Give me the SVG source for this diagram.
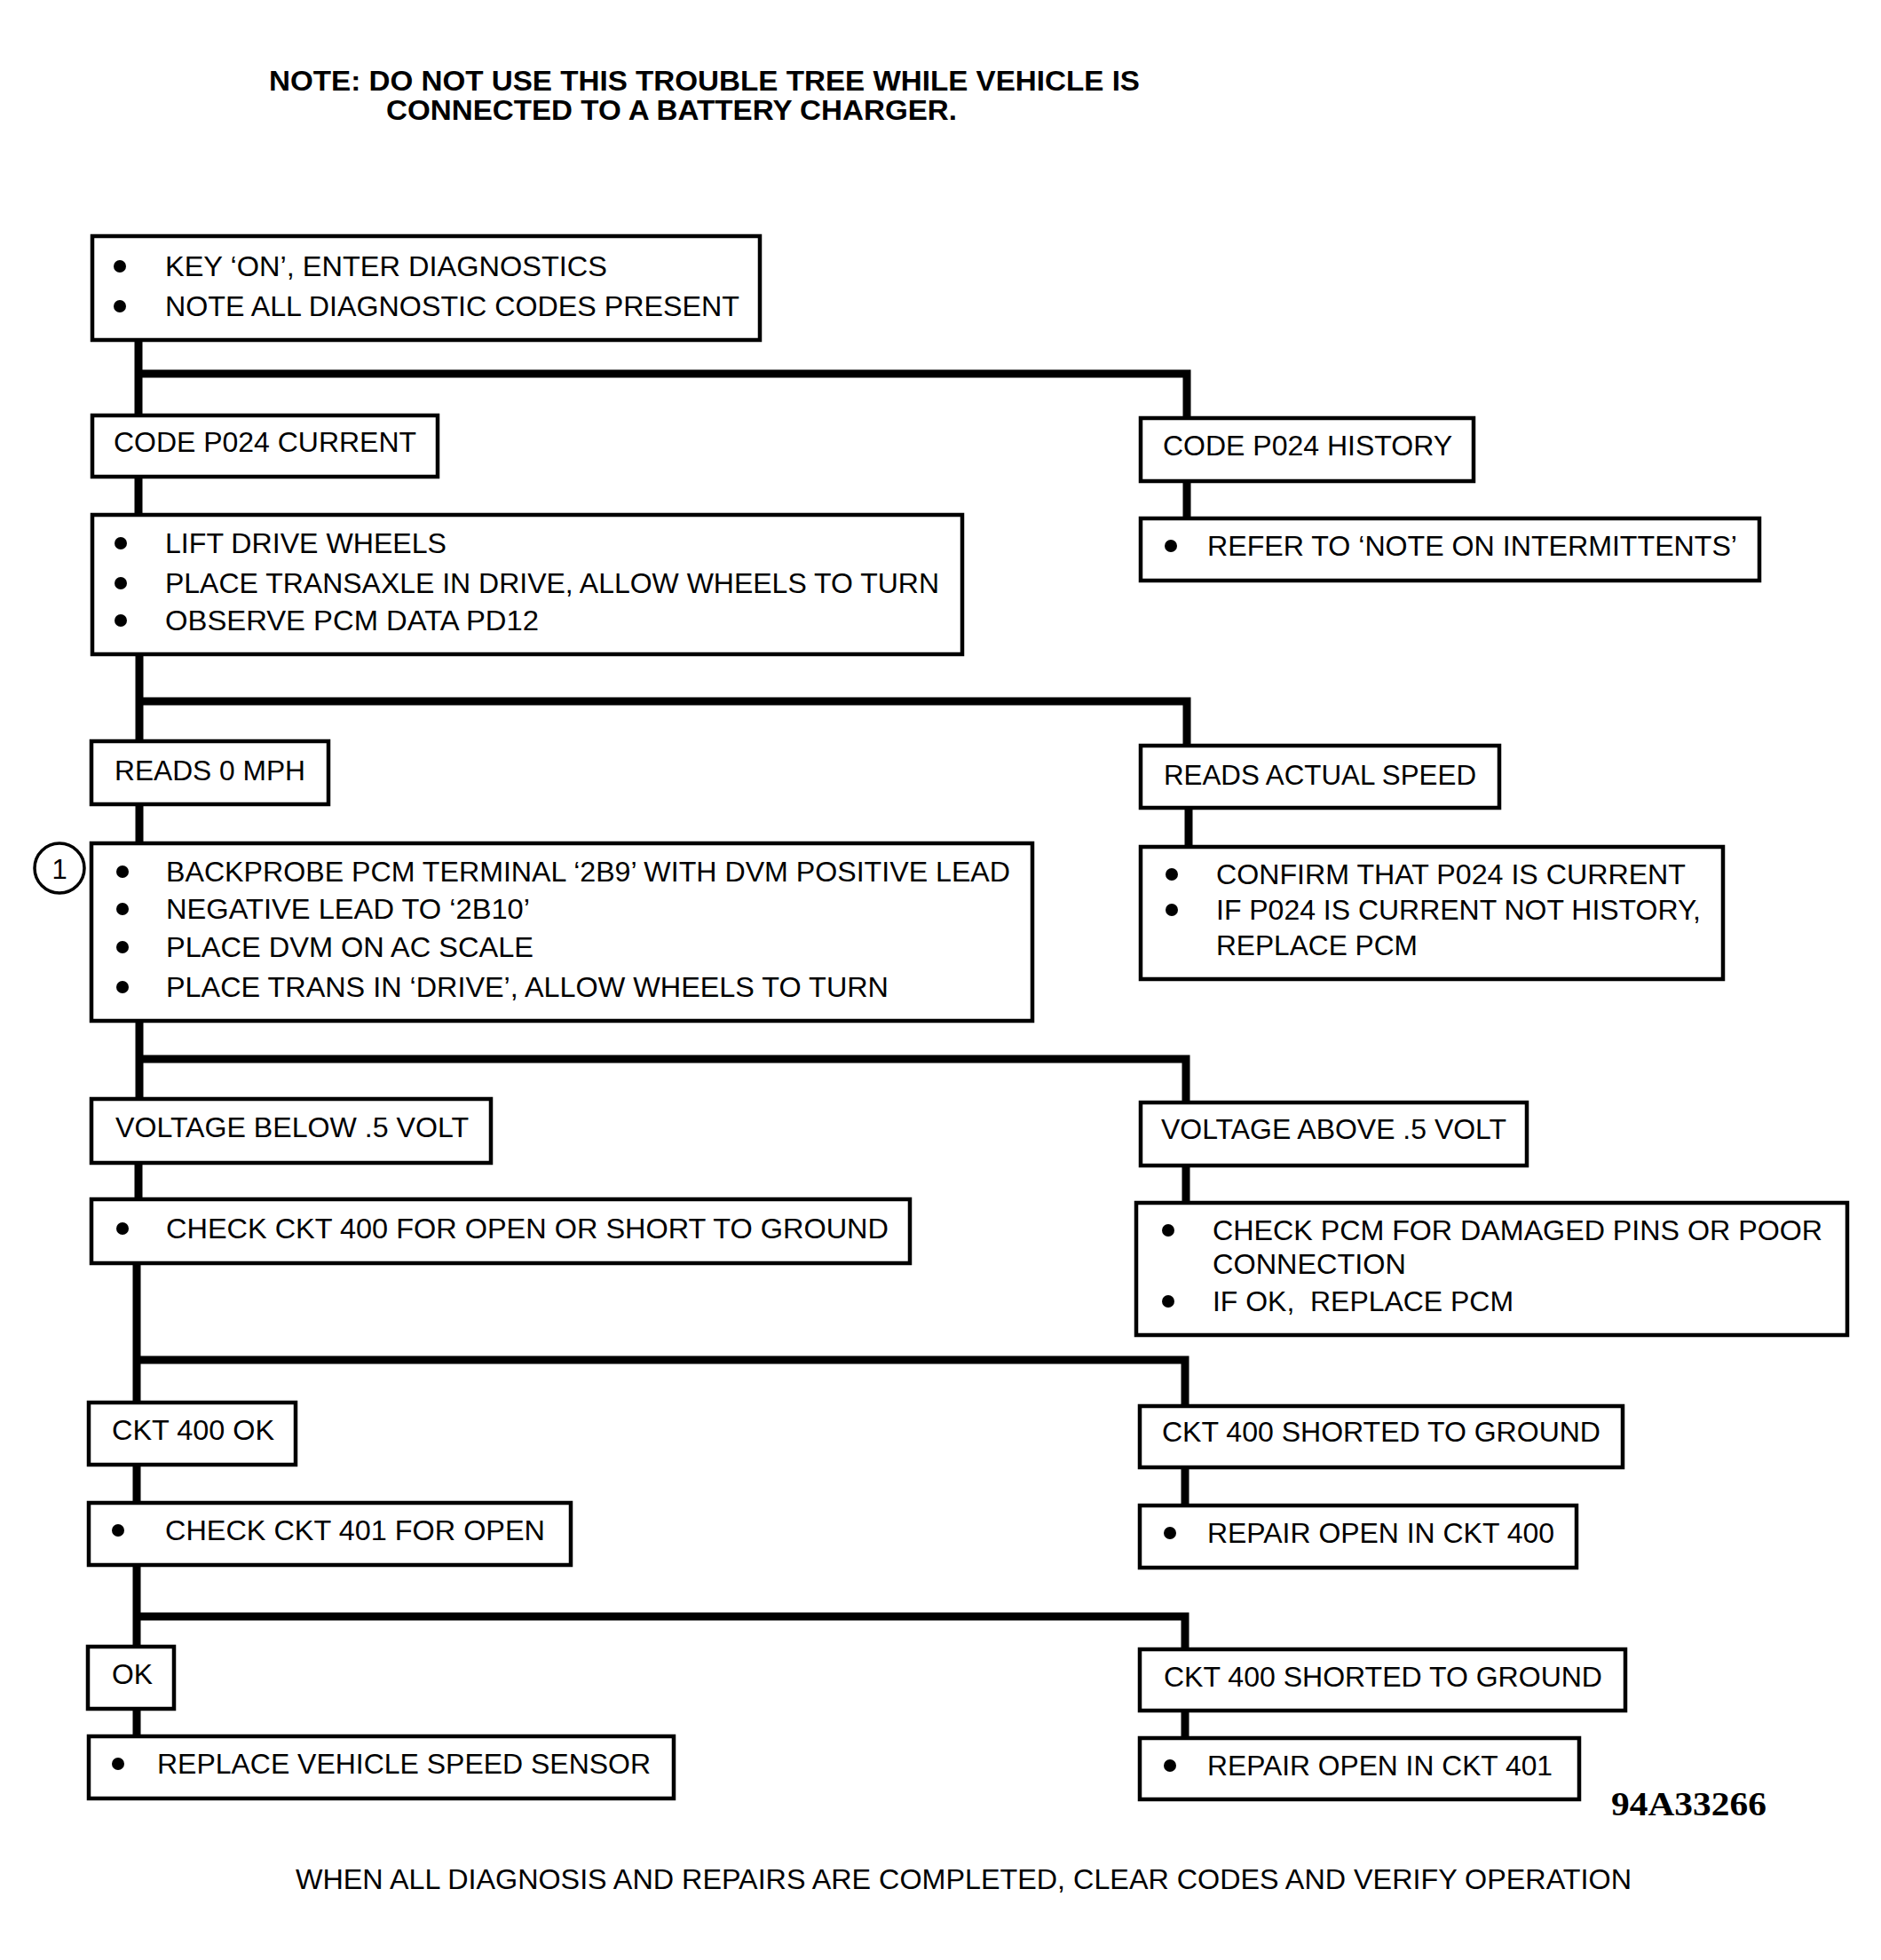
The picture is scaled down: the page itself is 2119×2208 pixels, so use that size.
<svg xmlns="http://www.w3.org/2000/svg" width="2119" height="2208" viewBox="0 0 2119 2208">
<style>
.box{fill:#fff;stroke:#000;stroke-width:4.5}
.c{fill:none;stroke:#000;stroke-width:9;stroke-linejoin:miter;stroke-linecap:butt}
.t{font-family:"Liberation Sans",Arial,sans-serif;font-size:31px;fill:#000}
.nb{font-weight:bold}
.id{font-family:"Liberation Serif","Times New Roman",serif;font-weight:bold;font-size:37px;fill:#000}
.dot{fill:#000}
</style>
<rect width="2119" height="2208" fill="#fff"/>
<g id="note">
<text class="t nb" x="303" y="102" textLength="981" lengthAdjust="spacingAndGlyphs">NOTE: DO NOT USE THIS TROUBLE TREE WHILE VEHICLE IS</text>
<text class="t nb" x="435" y="135" textLength="643" lengthAdjust="spacingAndGlyphs">CONNECTED TO A BATTERY CHARGER.</text>
</g>
<g id="connectors">
<path class="c" d="M156 383V468M156 537V580M157 737V835M157 906V950M157 1150V1238M156 1310V1351M154 1423V1580M154 1650V1693M154 1763V1855M154 1925V1956"/>
<path class="c" d="M156 421H1337V471"/>
<path class="c" d="M157 790H1337V840"/>
<path class="c" d="M157 1193H1336V1242"/>
<path class="c" d="M154 1532H1335V1584"/>
<path class="c" d="M154 1821H1335V1858"/>
<path class="c" d="M1337 542V584M1339 910V954M1336 1313V1355M1335 1653V1696M1335 1927V1958"/>
</g>
<g id="n-start">
<rect class="box" x="104" y="266" width="752" height="117"/>
<circle class="dot" cx="135" cy="300" r="7"/>
<circle class="dot" cx="135" cy="345" r="7"/>
<text class="t" x="186" y="311" textLength="498" lengthAdjust="spacingAndGlyphs">KEY ‘ON’, ENTER DIAGNOSTICS</text>
<text class="t" x="186" y="356" textLength="647" lengthAdjust="spacingAndGlyphs">NOTE ALL DIAGNOSTIC CODES PRESENT</text>
</g>
<g id="n-current">
<rect class="box" x="104" y="468" width="389" height="69"/>
<text class="t" x="128" y="509" textLength="341" lengthAdjust="spacingAndGlyphs">CODE P024 CURRENT</text>
</g>
<g id="n-history">
<rect class="box" x="1285" y="471" width="375" height="71"/>
<text class="t" x="1310" y="513" textLength="326" lengthAdjust="spacingAndGlyphs">CODE P024 HISTORY</text>
</g>
<g id="n-refer">
<rect class="box" x="1285" y="584" width="697" height="70"/>
<circle class="dot" cx="1319" cy="615" r="7"/>
<text class="t" x="1360" y="626" textLength="597" lengthAdjust="spacingAndGlyphs">REFER TO ‘NOTE ON INTERMITTENTS’</text>
</g>
<g id="n-lift">
<rect class="box" x="104" y="580" width="980" height="157"/>
<circle class="dot" cx="136" cy="612" r="7"/>
<circle class="dot" cx="136" cy="657" r="7"/>
<circle class="dot" cx="136" cy="699" r="7"/>
<text class="t" x="186" y="623" textLength="317" lengthAdjust="spacingAndGlyphs">LIFT DRIVE WHEELS</text>
<text class="t" x="186" y="668" textLength="872" lengthAdjust="spacingAndGlyphs">PLACE TRANSAXLE IN DRIVE, ALLOW WHEELS TO TURN</text>
<text class="t" x="186" y="710" textLength="421" lengthAdjust="spacingAndGlyphs">OBSERVE PCM DATA PD12</text>
</g>
<g id="n-reads0">
<rect class="box" x="103" y="835" width="267" height="71"/>
<text class="t" x="129" y="879" textLength="215" lengthAdjust="spacingAndGlyphs">READS 0 MPH</text>
</g>
<g id="n-readsactual">
<rect class="box" x="1285" y="840" width="404" height="70"/>
<text class="t" x="1311" y="884" textLength="352" lengthAdjust="spacingAndGlyphs">READS ACTUAL SPEED</text>
</g>
<g id="n-confirm">
<rect class="box" x="1285" y="954" width="656" height="149"/>
<circle class="dot" cx="1320" cy="985" r="7"/>
<circle class="dot" cx="1320" cy="1025" r="7"/>
<text class="t" x="1370" y="996" textLength="529" lengthAdjust="spacingAndGlyphs">CONFIRM THAT P024 IS CURRENT</text>
<text class="t" x="1370" y="1036" textLength="546" lengthAdjust="spacingAndGlyphs">IF P024 IS CURRENT NOT HISTORY,</text>
<text class="t" x="1370" y="1076" textLength="227" lengthAdjust="spacingAndGlyphs">REPLACE PCM</text>
</g>
<g id="n-backprobe">
<rect class="box" x="103" y="950" width="1060" height="200"/>
<circle class="dot" cx="138" cy="982" r="7"/>
<circle class="dot" cx="138" cy="1024" r="7"/>
<circle class="dot" cx="138" cy="1067" r="7"/>
<circle class="dot" cx="138" cy="1112" r="7"/>
<text class="t" x="187" y="993" textLength="951" lengthAdjust="spacingAndGlyphs">BACKPROBE PCM TERMINAL ‘2B9’ WITH DVM POSITIVE LEAD</text>
<text class="t" x="187" y="1035" textLength="410" lengthAdjust="spacingAndGlyphs">NEGATIVE LEAD TO ‘2B10’</text>
<text class="t" x="187" y="1078" textLength="414" lengthAdjust="spacingAndGlyphs">PLACE DVM ON AC SCALE</text>
<text class="t" x="187" y="1123" textLength="814" lengthAdjust="spacingAndGlyphs">PLACE TRANS IN ‘DRIVE’, ALLOW WHEELS TO TURN</text>
</g>
<g id="n-step1">
<circle cx="67" cy="978" r="28" fill="#fff" stroke="#000" stroke-width="3.5"/>
<text class="t" x="67" y="990" text-anchor="middle" font-size="30">1</text>
</g>
<g id="n-vbelow">
<rect class="box" x="103" y="1238" width="450" height="72"/>
<text class="t" x="130" y="1281" textLength="398" lengthAdjust="spacingAndGlyphs">VOLTAGE BELOW .5 VOLT</text>
</g>
<g id="n-vabove">
<rect class="box" x="1285" y="1242" width="435" height="71"/>
<text class="t" x="1308" y="1283" textLength="389" lengthAdjust="spacingAndGlyphs">VOLTAGE ABOVE .5 VOLT</text>
</g>
<g id="n-checkpcm">
<rect class="box" x="1280" y="1355" width="801" height="149"/>
<circle class="dot" cx="1316" cy="1386" r="7"/>
<circle class="dot" cx="1316" cy="1466" r="7"/>
<text class="t" x="1366" y="1397" textLength="687" lengthAdjust="spacingAndGlyphs">CHECK PCM FOR DAMAGED PINS OR POOR</text>
<text class="t" x="1366" y="1435" textLength="218" lengthAdjust="spacingAndGlyphs">CONNECTION</text>
<text class="t" x="1366" y="1477" textLength="339" lengthAdjust="spacingAndGlyphs" xml:space="preserve" style="white-space:pre">IF OK,  REPLACE PCM</text>
</g>
<g id="n-checkckt400">
<rect class="box" x="103" y="1351" width="922" height="72"/>
<circle class="dot" cx="138" cy="1384" r="7"/>
<text class="t" x="187" y="1395" textLength="814" lengthAdjust="spacingAndGlyphs">CHECK CKT 400 FOR OPEN OR SHORT TO GROUND</text>
</g>
<g id="n-ckt400ok">
<rect class="box" x="100" y="1580" width="233" height="70"/>
<text class="t" x="126" y="1622" textLength="183" lengthAdjust="spacingAndGlyphs">CKT 400 OK</text>
</g>
<g id="n-shorted1">
<rect class="box" x="1284" y="1584" width="544" height="69"/>
<text class="t" x="1309" y="1624" textLength="494" lengthAdjust="spacingAndGlyphs">CKT 400 SHORTED TO GROUND</text>
</g>
<g id="n-repair400">
<rect class="box" x="1284" y="1696" width="492" height="70"/>
<circle class="dot" cx="1318" cy="1727" r="7"/>
<text class="t" x="1360" y="1738" textLength="391" lengthAdjust="spacingAndGlyphs">REPAIR OPEN IN CKT 400</text>
</g>
<g id="n-check401">
<rect class="box" x="100" y="1693" width="543" height="70"/>
<circle class="dot" cx="133" cy="1724" r="7"/>
<text class="t" x="186" y="1735" textLength="428" lengthAdjust="spacingAndGlyphs">CHECK CKT 401 FOR OPEN</text>
</g>
<g id="n-ok">
<rect class="box" x="99" y="1855" width="97" height="70"/>
<text class="t" x="126" y="1897" textLength="46" lengthAdjust="spacingAndGlyphs">OK</text>
</g>
<g id="n-replacevss">
<rect class="box" x="100" y="1956" width="659" height="70"/>
<circle class="dot" cx="133" cy="1987" r="7"/>
<text class="t" x="177" y="1998" textLength="556" lengthAdjust="spacingAndGlyphs">REPLACE VEHICLE SPEED SENSOR</text>
</g>
<g id="n-shorted2">
<rect class="box" x="1284" y="1858" width="547" height="69"/>
<text class="t" x="1311" y="1900" textLength="494" lengthAdjust="spacingAndGlyphs">CKT 400 SHORTED TO GROUND</text>
</g>
<g id="n-repair401">
<rect class="box" x="1284" y="1958" width="495" height="69"/>
<circle class="dot" cx="1318" cy="1989" r="7"/>
<text class="t" x="1360" y="2000" textLength="389" lengthAdjust="spacingAndGlyphs">REPAIR OPEN IN CKT 401</text>
</g>
<g id="footer">
<text class="id" x="1815" y="2045" textLength="175" lengthAdjust="spacingAndGlyphs">94A33266</text>
<text class="t" x="333" y="2128" textLength="1505" lengthAdjust="spacingAndGlyphs">WHEN ALL DIAGNOSIS AND REPAIRS ARE COMPLETED, CLEAR CODES AND VERIFY OPERATION</text>
</g>
</svg>
